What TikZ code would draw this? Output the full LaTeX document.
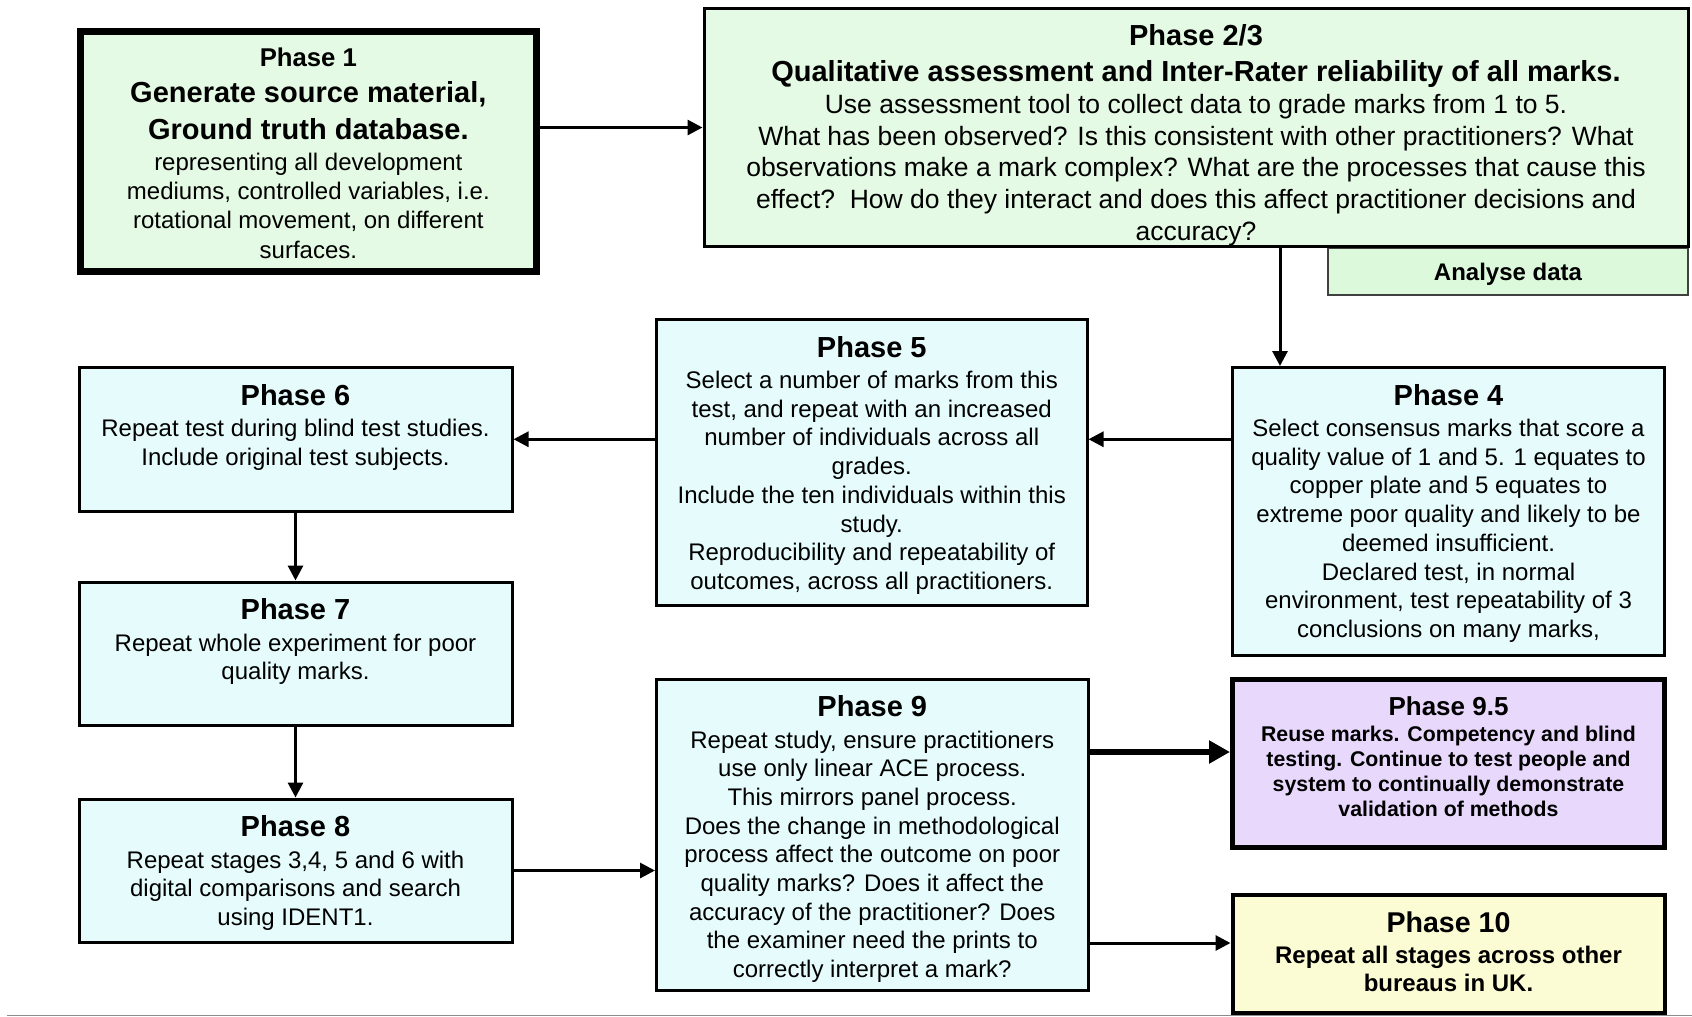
\documentclass[tikz,border=0pt]{standalone}
\usepackage{fontspec}
\setmainfont{Liberation Sans}
\usetikzlibrary{arrows.meta}

\definecolor{greenfill}{RGB}{228,250,228}
\definecolor{anafill}{RGB}{220,249,220}
\definecolor{cyanfill}{RGB}{230,252,252}
\definecolor{lilacfill}{RGB}{232,216,252}
\definecolor{yellowfill}{RGB}{252,252,212}

\tikzset{
  phasebox/.style={draw=black, line width=3pt, rectangle, inner sep=0pt},
  phasetext/.style={anchor=north, align=center, inner sep=0pt,
    font=\fontsize{24}{28.7}\selectfont},
  flow/.style={line width=3pt, -{Triangle[length=15pt,width=15pt]}},
  bigflow/.style={line width=6.5pt, -{Triangle[length=21pt,width=22pt]}},
}
\newcommand{\ttl}[1]{{\fontsize{29}{29}\selectfont\bfseries #1}}

\begin{document}
\begin{tikzpicture}[x=1pt,y=-1pt]
\useasboundingbox (0,0) rectangle (1692,1017);

% Boxes
\node[phasebox, draw=black!75, line width=1.5pt, fill=anafill,
  minimum width=360pt, minimum height=47pt] (ana) at (1508,271.5) {};
\node[anchor=base, inner sep=0pt, font=\fontsize{24}{24}\selectfont\bfseries]
  (anat) at ([yshift=-8.5pt]ana.center) {Analyse data};

\node[phasebox, line width=7pt, fill=greenfill,
  minimum width=456.7pt, minimum height=240pt] (p1) at (308.35,151) {};
\node[phasetext, font=\fontsize{24}{29.3}\selectfont] (p1t) at ([yshift=-20.5pt]p1.north) {%
  {\fontsize{25.7}{25.7}\selectfont\bfseries Phase 1}\\[6.5pt]
  \ttl{Generate source material,}\\[7.4pt]
  \ttl{Ground truth database.}\\[1.5pt]
  representing all development\\
  mediums, controlled variables, i.e.\\
  rotational movement, on different\\
  surfaces.};

\node[phasebox, fill=greenfill,
  minimum width=984pt, minimum height=238pt] (p23) at (1196,127.5) {};
\node[phasetext, font=\fontsize{26.5}{31.6}\selectfont] (p23t) at ([yshift=-17.5pt]p23.north) {%
  \ttl{Phase 2/3}\\[4pt]
  \ttl{Qualitative assessment and Inter-Rater reliability of all marks.}\\[0.7pt]
  Use assessment tool to collect data to grade marks from 1 to 5.\\
  What has been observed? Is this consistent with other practitioners? What\\
  observations make a mark complex? What are the processes that cause this\\
  effect?\ \ How do they interact and does this affect practitioner decisions and\\
  accuracy?};

\node[phasebox, fill=cyanfill, minimum width=432pt, minimum height=287.5pt]
  (p4) at (1448.5,511.25) {};
\node[phasetext] (p4t) at ([yshift=-18pt]p4.north) {%
  \ttl{Phase 4}\\[2.6pt]
  Select consensus marks that score a\\
  quality value of 1 and 5. 1 equates to\\
  copper plate and 5 equates to\\
  extreme poor quality and likely to be\\
  deemed insufficient.\\
  Declared test, in normal\\
  environment, test repeatability of 3\\
  conclusions on many marks,};

\node[phasebox, fill=cyanfill, minimum width=430.5pt, minimum height=285.5pt]
  (p5) at (871.75,462.25) {};
\node[phasetext] (p5t) at ([yshift=-18pt]p5.north) {%
  \ttl{Phase 5}\\[2.6pt]
  Select a number of marks from this\\
  test, and repeat with an increased\\
  number of individuals across all\\
  grades.\\
  Include the ten individuals within this\\
  study.\\
  Reproducibility and repeatability of\\
  outcomes, across all practitioners.};

\node[phasebox, fill=cyanfill, minimum width=433pt, minimum height=143.5pt]
  (p6) at (295.5,439.25) {};
\node[phasetext] (p6t) at ([yshift=-18pt]p6.north) {%
  \ttl{Phase 6}\\[2.6pt]
  Repeat test during blind test studies.\\
  Include original test subjects.};

\node[phasebox, fill=cyanfill, minimum width=433pt, minimum height=143pt]
  (p7) at (295.5,653.5) {};
\node[phasetext] (p7t) at ([yshift=-18pt]p7.north) {%
  \ttl{Phase 7}\\[2.6pt]
  Repeat whole experiment for poor\\
  quality marks.};

\node[phasebox, fill=cyanfill, minimum width=433pt, minimum height=143pt]
  (p8) at (295.5,870.5) {};
\node[phasetext] (p8t) at ([yshift=-18pt]p8.north) {%
  \ttl{Phase 8}\\[2.6pt]
  Repeat stages 3,4, 5 and 6 with\\
  digital comparisons and search\\
  using IDENT1.};

\node[phasebox, fill=cyanfill, minimum width=431.5pt, minimum height=311pt]
  (p9) at (872.25,834.5) {};
\node[phasetext] (p9t) at ([yshift=-18pt]p9.north) {%
  \ttl{Phase 9}\\[2.6pt]
  Repeat study, ensure practitioners\\
  use only linear ACE process.\\
  This mirrors panel process.\\
  Does the change in methodological\\
  process affect the outcome on poor\\
  quality marks? Does it affect the\\
  accuracy of the practitioner? Does\\
  the examiner need the prints to\\
  correctly interpret a mark?};

\node[phasebox, line width=5pt, fill=lilacfill, minimum width=432pt, minimum height=168pt]
  (p95) at (1448.5,763) {};
\node[phasetext, font=\fontsize{21.3}{25}\selectfont\bfseries] (p95t) at ([yshift=-20.2pt]p95.north) {%
  {\fontsize{26}{26}\selectfont Phase 9.5}\\[1pt]
  Reuse marks. Competency and blind\\
  testing. Continue to test people and\\
  system to continually demonstrate\\
  validation of methods};

\node[phasebox, line width=4pt, fill=yellowfill, minimum width=432pt, minimum height=118pt]
  (p10) at (1448.5,954) {};
\node[phasetext, font=\fontsize{24}{28}\selectfont\bfseries] (p10t) at ([yshift=-18.2pt]p10.north) {%
  {\fontsize{28.6}{28.6}\selectfont Phase 10}\\[3pt]
  Repeat all stages across other\\
  bureaus in UK.};

% Levels of the connectors that leave a box off its centre line
\coordinate (x4) at (1280,0);
\coordinate (y95) at (0,752);
\coordinate (y10) at (0,943);

% Connectors
\draw[flow] (p1.east |- p23.west) -- (p23.west);
\draw[flow] (p23.south -| x4) -- (p4.north -| x4);
\draw[flow] (p4.west |- p6.east) -- (p5.east |- p6.east);
\draw[flow] (p5.west |- p6.east) -- (p6.east);
\draw[flow] (p6.south) -- (p7.north);
\draw[flow] (p7.south) -- (p8.north);
\draw[flow] (p8.east) -- (p9.west |- p8.east);
\draw[bigflow] (p9.east |- y95) -- (p95.west |- y95);
\draw[flow] (p9.east |- y10) -- (p10.west |- y10);

% Rule along the foot of the page
\draw[line width=1.5pt, draw=black!45] (7,1015.5) -- (1692,1015.5);
\end{tikzpicture}
\end{document}
